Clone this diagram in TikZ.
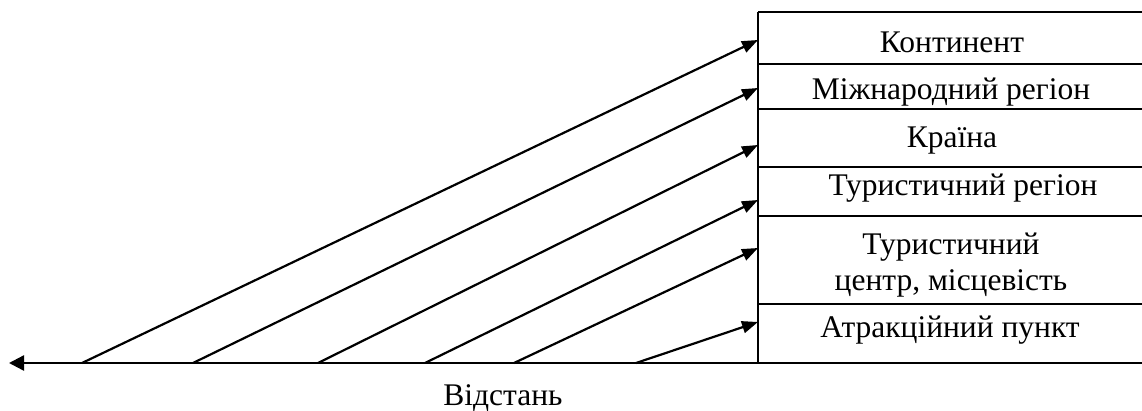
\documentclass[tikz,border=0pt]{standalone}
\usepackage{fontspec}
\setmainfont{Liberation Serif}
\usetikzlibrary{arrows.meta}
\tikzset{
  lbl/.style={font=\rmfamily\fontsize{31.5}{36}\selectfont, inner sep=0pt, anchor=base, align=center},
  rowbox/.style={draw=none, inner sep=0pt, minimum width=384pt, anchor=north west},
  frame/.style={line width=2pt, black},
  ray/.style={line width=2.2pt, black, -{Triangle[length=16pt,width=12pt]}},
  axisline/.style={line width=2.4pt, black, -{Triangle[length=15pt,width=15pt]}}
}
\begin{document}
\begin{tikzpicture}[x=1pt,y=-1pt]
\useasboundingbox (0,0) rectangle (1142,410);
% rows of the column
\node[rowbox, minimum height=52pt] (r1) at (758,12) {};
\node[rowbox, minimum height=45pt] (r2) at (758,64) {};
\node[rowbox, minimum height=58pt] (r3) at (758,109) {};
\node[rowbox, minimum height=49pt] (r4) at (758,167) {};
\node[rowbox, minimum height=88pt] (r5) at (758,216) {};
\node[rowbox, minimum height=59pt] (r6) at (758,304) {};
% frame lines
\draw[frame] (r1.north west) -- (r1.north east);
\draw[frame] (r2.north west) -- (r2.north east);
\draw[frame] (r3.north west) -- (r3.north east);
\draw[frame] (r4.north west) -- (r4.north east);
\draw[frame] (r5.north west) -- (r5.north east);
\draw[frame] (r6.north west) -- (r6.north east);
\draw[frame] (r1.north west) -- (r6.south west);
% labels
\node[lbl] (t1) at (952,52) {Континент};
\node[lbl] (t2) at (951,99) {Міжнародний регіон};
\node[lbl] (t3) at (952,147) {Країна};
\node[lbl] (t4) at (963,195) {Туристичний регіон};
\node[lbl] (t5) at (951,290) {Туристичний\\центр, місцевість};
\node[lbl] (t6) at (950,337) {Атракційний пункт};
\node[lbl] (dist) at (503,405) {Відстань};
% axis
\coordinate (axR) at (1142,363);
\coordinate (axL) at (9,363);
\draw[axisline] (axR) -- (axL);
% rays
\coordinate (a1) at (82,363);
\coordinate (a2) at (193,363);
\coordinate (a3) at (318,363);
\coordinate (a4) at (425,363);
\coordinate (a5) at (514,363);
\coordinate (a6) at (636,363);
\coordinate (e1) at (758,40);
\coordinate (e2) at (758,88);
\coordinate (e3) at (758,145);
\coordinate (e4) at (758,200);
\coordinate (e5) at (758,248);
\coordinate (e6) at (758,322);
\foreach \i in {1,...,6} \draw[ray] (a\i) -- (e\i);
\end{tikzpicture}
\end{document}
